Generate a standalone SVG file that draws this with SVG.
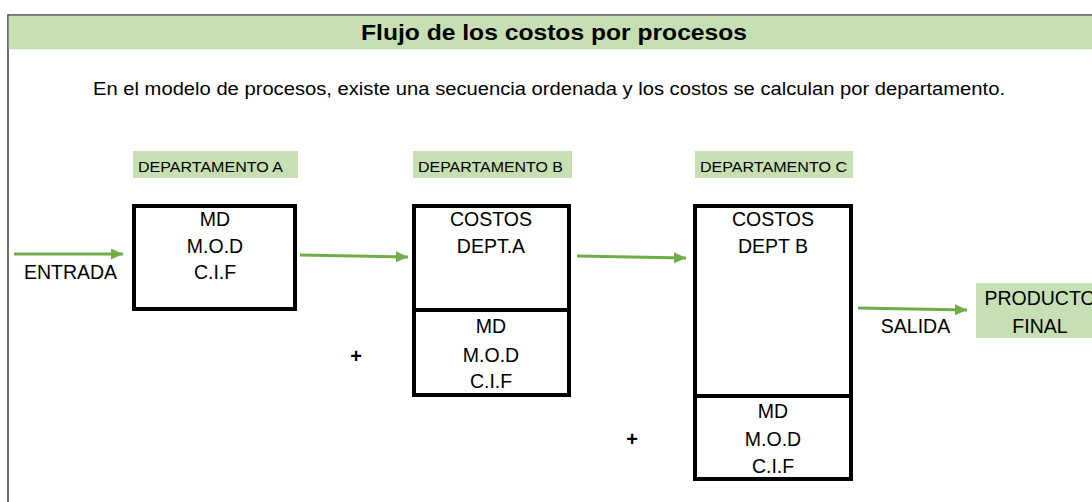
<svg xmlns="http://www.w3.org/2000/svg" width="1092" height="502" viewBox="0 0 1092 502">
<style>
  text { font-family: "Liberation Sans", Arial, sans-serif; fill: #000; }
  .box { fill: #fff; stroke: #000; stroke-width: 4; }
  .div { stroke: #000; stroke-width: 4; }
  .lbl { fill: #c6e0b4; }
  .bt { font-size: 19.5px; text-anchor: middle; }
  .lt { font-size: 15px; }
  .conn { stroke: #70ad47; stroke-width: 3; fill: none; marker-end: url(#arr); }
  .plus { font-size: 20px; font-weight: bold; text-anchor: middle; }
</style>
<defs>
  <marker id="arr" markerUnits="userSpaceOnUse" markerWidth="13" markerHeight="12" refX="12" refY="5.5" orient="auto">
    <path d="M0,0 L12,5.5 L0,11 Z" fill="#70ad47"/>
  </marker>
</defs>
<rect x="0" y="0" width="1092" height="502" fill="#fff"/>
<g id="frame">
  <rect x="8" y="15" width="1100" height="500" fill="#fff" stroke="#404040" stroke-width="1.5"/>
  <rect x="8.75" y="15.75" width="1090" height="33.5" fill="#c6e0b4"/>
  <text x="554" y="39.5" font-size="22" font-weight="bold" text-anchor="middle" textLength="386" lengthAdjust="spacingAndGlyphs">Flujo de los costos por procesos</text>
  <text x="549" y="94.5" font-size="17.5" text-anchor="middle" textLength="912" lengthAdjust="spacingAndGlyphs">En el modelo de procesos, existe una secuencia ordenada y los costos se calculan por departamento.</text>
</g>
<g id="label-a">
  <rect class="lbl" x="133" y="151" width="165" height="27"/>
  <text class="lt" x="138" y="172" textLength="145" lengthAdjust="spacingAndGlyphs">DEPARTAMENTO A</text>
</g>
<g id="label-b">
  <rect class="lbl" x="413" y="151" width="159" height="27"/>
  <text class="lt" x="418" y="172" textLength="145" lengthAdjust="spacingAndGlyphs">DEPARTAMENTO B</text>
</g>
<g id="label-c">
  <rect class="lbl" x="695" y="151" width="158" height="27"/>
  <text class="lt" x="700" y="172" textLength="147" lengthAdjust="spacingAndGlyphs">DEPARTAMENTO C</text>
</g>
<g id="dept-a">
  <rect class="box" x="134" y="206" width="161" height="103"/>
  <text class="bt" x="215" y="225.5">MD</text>
  <text class="bt" x="215" y="252.5">M.O.D</text>
  <text class="bt" x="215" y="279">C.I.F</text>
</g>
<g id="dept-b">
  <rect class="box" x="414" y="206" width="155" height="189"/>
  <line class="div" x1="414" y1="310" x2="569" y2="310"/>
  <text class="bt" x="491" y="226">COSTOS</text>
  <text class="bt" x="491" y="252.5">DEPT.A</text>
  <text class="bt" x="491" y="333">MD</text>
  <text class="bt" x="491" y="361.5">M.O.D</text>
  <text class="bt" x="491" y="388">C.I.F</text>
</g>
<g id="dept-c">
  <rect class="box" x="695" y="206" width="156" height="273"/>
  <line class="div" x1="695" y1="396" x2="851" y2="396"/>
  <text class="bt" x="773" y="226">COSTOS</text>
  <text class="bt" x="773" y="252.5">DEPT B</text>
  <text class="bt" x="773" y="417.5">MD</text>
  <text class="bt" x="773" y="446">M.O.D</text>
  <text class="bt" x="773" y="473">C.I.F</text>
</g>
<g id="producto-final">
  <rect class="lbl" x="976" y="283" width="120" height="55"/>
  <text class="bt" x="1040" y="305">PRODUCTO</text>
  <text class="bt" x="1040" y="333">FINAL</text>
</g>
<g id="connectors">
  <line class="conn" x1="14" y1="254" x2="123" y2="254"/>
  <line class="conn" x1="300" y1="255" x2="408" y2="257"/>
  <line class="conn" x1="577" y1="256" x2="686" y2="258"/>
  <line class="conn" x1="858" y1="308" x2="967" y2="310"/>
</g>
<g id="annotations">
  <text class="bt" x="70.5" y="279">ENTRADA</text>
  <text class="bt" x="915.5" y="332.5">SALIDA</text>
  <text class="plus" x="356" y="363">+</text>
  <text class="plus" x="632" y="446">+</text>
</g>
</svg>
